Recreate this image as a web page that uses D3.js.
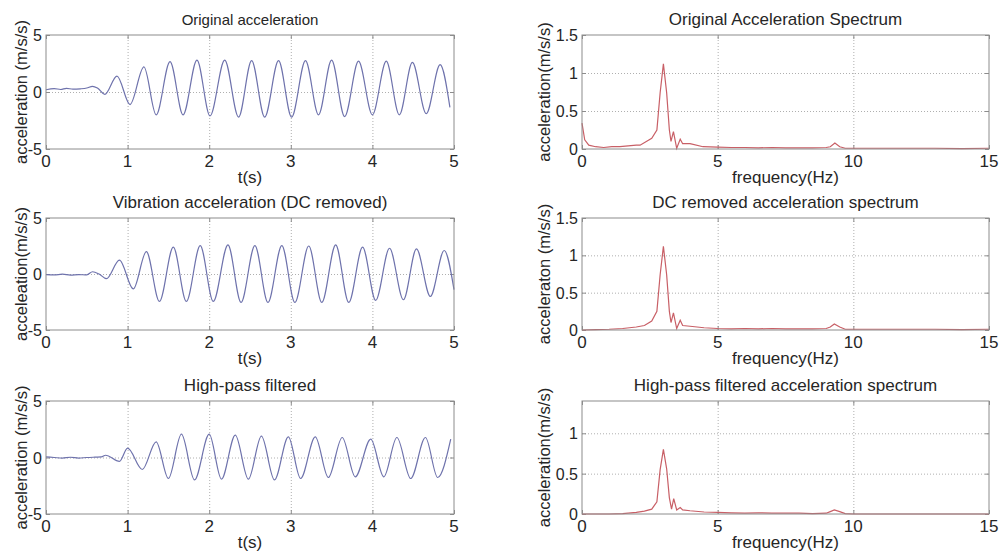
<!DOCTYPE html>
<html>
<head>
<meta charset="utf-8">
<script src="https://cdn.jsdelivr.net/npm/d3@7"></script>
<style>
  body { margin: 0; background: #fff; }
  text { font-family: "Liberation Sans", Arial, Helvetica, sans-serif; fill: #262626; }
</style>
</head>
<body>
<svg id="fig" width="1001" height="557"></svg>
<script>
// ---- time signals (peaks / troughs) ----
var origT = [0, 0.1, 0.18, 0.25, 0.33, 0.42, 0.5, 0.57, 0.63, 0.72, 0.87, 1.03, 1.2, 1.35, 1.52, 1.68, 1.85, 2.01, 2.19, 2.36, 2.52, 2.68, 2.85, 3.01, 3.18, 3.34, 3.5, 3.66, 3.83, 4.0, 4.17, 4.33, 4.49, 4.66, 4.83, 4.95];
var origA = [0.2, 0.3, 0.22, 0.32, 0.25, 0.28, 0.35, 0.5, 0.35, -0.2, 1.4, -1.1, 2.2, -2.0, 2.66, -2.0, 2.8, -2.1, 2.8, -2.2, 2.75, -2.2, 2.75, -2.2, 2.75, -2.0, 2.8, -2.16, 2.7, -2.0, 2.7, -2.0, 2.6, -1.9, 2.4, -1.35];

var dcT = [0, 0.1, 0.2, 0.3, 0.4, 0.5, 0.57, 0.65, 0.74, 0.9, 1.07, 1.23, 1.39, 1.56, 1.72, 1.89, 2.05, 2.23, 2.39, 2.56, 2.72, 2.89, 3.05, 3.22, 3.38, 3.55, 3.71, 3.88, 4.04, 4.21, 4.38, 4.54, 4.71, 4.88, 5.0];
var dcA = [-0.05, -0.08, -0.02, -0.1, -0.05, -0.08, 0.2, 0.0, -0.42, 1.24, -1.33, 2.0, -2.45, 2.4, -2.45, 2.54, -2.45, 2.6, -2.54, 2.54, -2.54, 2.54, -2.54, 2.5, -2.54, 2.6, -2.54, 2.4, -2.35, 2.3, -2.3, 2.24, -2.0, 2.1, -1.4];

var hpT = [0, 0.1, 0.2, 0.3, 0.4, 0.5, 0.6, 0.68, 0.73, 0.9, 1.0, 1.18, 1.35, 1.5, 1.66, 1.82, 2.0, 2.15, 2.32, 2.48, 2.64, 2.8, 2.97, 3.12, 3.3, 3.46, 3.63, 3.79, 3.98, 4.14, 4.3, 4.47, 4.65, 4.8, 4.96];
var hpA = [0.05, 0.0, -0.05, 0.02, -0.05, 0.0, 0.03, 0.05, 0.2, -0.35, 0.83, -1.06, 1.39, -1.86, 2.06, -1.98, 2.06, -1.92, 1.98, -1.92, 1.89, -1.98, 1.83, -1.86, 1.83, -1.77, 1.77, -1.71, 1.62, -1.71, 1.77, -1.86, 1.77, -1.77, 1.62];

// ---- spectra ----
var origF = [0, 0.1, 0.25, 0.5, 0.8, 1.1, 1.4, 1.7, 2.0, 2.14, 2.57, 2.76, 2.88, 3.0, 3.12, 3.22, 3.28, 3.37, 3.49, 3.62, 3.71, 3.98, 4.46, 5, 5.5, 6, 6.5, 7, 7.5, 8, 8.5, 9.0, 9.15, 9.32, 9.5, 9.7, 10, 11, 12, 13, 14, 15];
var origS = [0.34, 0.12, 0.05, 0.03, 0.02, 0.03, 0.03, 0.04, 0.05, 0.05, 0.14, 0.25, 0.74, 1.12, 0.74, 0.25, 0.1, 0.23, 0.01, 0.13, 0.07, 0.07, 0.03, 0.025, 0.02, 0.02, 0.015, 0.02, 0.015, 0.015, 0.015, 0.02, 0.03, 0.08, 0.03, 0.01, 0.01, 0.01, 0.01, 0.01, 0.005, 0.01];

var dcF = [0, 0.5, 1.0, 1.5, 2.0, 2.3, 2.57, 2.76, 2.88, 3.0, 3.12, 3.22, 3.28, 3.37, 3.49, 3.62, 3.71, 3.98, 4.5, 5, 5.5, 6, 6.5, 7, 7.5, 8, 8.5, 9, 9.15, 9.3, 9.5, 9.7, 10, 11, 12, 13, 14, 15];
var dcS = [0, 0.005, 0.01, 0.02, 0.04, 0.06, 0.12, 0.25, 0.74, 1.12, 0.74, 0.25, 0.1, 0.23, 0.02, 0.13, 0.06, 0.05, 0.03, 0.02, 0.015, 0.02, 0.015, 0.02, 0.015, 0.015, 0.015, 0.02, 0.04, 0.08, 0.04, 0.01, 0.01, 0.01, 0.01, 0.01, 0.005, 0.01];

var hpF = [0, 0.5, 1.0, 1.5, 1.8, 2.0, 2.3, 2.57, 2.76, 2.88, 3.0, 3.12, 3.22, 3.3, 3.38, 3.49, 3.62, 3.71, 3.98, 4.5, 5, 5.5, 6, 6.5, 7, 7.5, 8, 8.5, 9, 9.15, 9.3, 9.5, 9.7, 10, 11, 12, 13, 14, 15];
var hpS = [0, 0, 0, 0.005, 0.015, 0.02, 0.035, 0.06, 0.15, 0.55, 0.8, 0.56, 0.2, 0.06, 0.19, 0.05, 0.08, 0.05, 0.04, 0.025, 0.02, 0.015, 0.01, 0.015, 0.01, 0.01, 0.01, 0.005, 0.01, 0.03, 0.05, 0.03, 0.005, 0, 0, 0, 0, 0, 0];

// ---- axis ticks / labels ----
var timeTicks = [0, 1, 2, 3, 4, 5];
var accTicks = [-5, 0, 5];
var freqTicks = [0, 5, 10, 15];
var specTicks = [0, 0.5, 1, 1.5];
var specTicksHp = [0, 0.5, 1];

var svg = d3.select('#fig');

var blue = '#6e72ac', red = '#c85f66';
var boxColor = '#8c8c8c', gridColor = '#9a9a9a';

function drawPanel(p) {
  var g = svg.append('g');
  var x = d3.scaleLinear().domain(p.xDomain).range([p.left, p.right]);
  var y = d3.scaleLinear().domain(p.yDomain).range([p.bottom, p.top]);
  var h = p.bottom - p.top, w = p.right - p.left;

  // dotted grid
  g.append('g')
      .attr('transform', 'translate(0,' + p.bottom + ')')
      .call(d3.axisBottom(x).tickValues(p.xTicks.slice(1, -1)).tickSize(-h).tickFormat(''))
      .call(function(a){ a.select('.domain').remove(); });
  g.append('g')
      .attr('transform', 'translate(' + p.left + ',0)')
      .call(d3.axisLeft(y).tickValues(p.yGrid).tickSize(-w).tickFormat(''))
      .call(function(a){ a.select('.domain').remove(); });
  g.selectAll('.tick line')
      .attr('stroke', gridColor)
      .attr('stroke-width', 0.8)
      .attr('stroke-dasharray', '1,2');

  // inward ticks on all four sides
  var tk = svg.append('g');
  tk.append('g').attr('transform', 'translate(0,' + p.bottom + ')')
      .call(d3.axisBottom(x).tickValues(p.xTicks).tickSize(-4).tickFormat(''));
  tk.append('g').attr('transform', 'translate(0,' + p.top + ')')
      .call(d3.axisTop(x).tickValues(p.xTicks).tickSize(-4).tickFormat(''));
  tk.append('g').attr('transform', 'translate(' + p.left + ',0)')
      .call(d3.axisLeft(y).tickValues(p.yTicks).tickSize(-4).tickFormat(''));
  tk.append('g').attr('transform', 'translate(' + p.right + ',0)')
      .call(d3.axisRight(y).tickValues(p.yTicks).tickSize(-4).tickFormat(''));
  tk.selectAll('.domain').remove();
  tk.selectAll('line').attr('stroke', boxColor);

  // the curve
  var line = d3.line()
      .x(function(d){ return x(d[0]); })
      .y(function(d){ return y(d[1]); })
      .curve(p.curve);
  svg.append('path')
      .datum(d3.zip(p.xs, p.ys))
      .attr('d', line)
      .attr('fill', 'none')
      .attr('stroke', p.color)
      .attr('stroke-width', 1.2);

  // box
  svg.append('rect')
      .attr('x', p.left).attr('y', p.top)
      .attr('width', w).attr('height', h)
      .attr('fill', 'none')
      .attr('stroke', boxColor)
      .attr('stroke-width', 1);

  // tick labels
  svg.append('g').selectAll('text')
      .data(p.xTicks).enter().append('text')
      .attr('x', function(d){ return x(d); })
      .attr('y', p.bottom + 18)
      .attr('text-anchor', 'middle')
      .attr('font-size', '17px')
      .text(function(d){ return String(d); });
  svg.append('g').selectAll('text')
      .data(p.yTicks).enter().append('text')
      .attr('x', p.left - 4)
      .attr('y', function(d){ return y(d) + 6; })
      .attr('text-anchor', 'end')
      .attr('font-size', '16px')
      .text(function(d){ return String(d); });

  // title, axis labels
  svg.append('text')
      .attr('x', (p.left + p.right) / 2)
      .attr('y', p.top - 10)
      .attr('text-anchor', 'middle')
      .attr('font-size', p.titleSize)
      .text(p.title);
  svg.append('text')
      .attr('x', (p.left + p.right) / 2)
      .attr('y', p.bottom + 34)
      .attr('text-anchor', 'middle')
      .attr('font-size', '17px')
      .text(p.xLabel);
  svg.append('text')
      .attr('transform', 'translate(' + p.yLabelX + ',' + ((p.top + p.bottom) / 2) + ') rotate(-90)')
      .attr('text-anchor', 'middle')
      .attr('font-size', '16.5px')
      .text(p.yLabel);
}

var L = {left: 46, right: 454, yLabelX: 27};
var R = {left: 582, right: 989, yLabelX: 550};
var rows = [[35, 149], [218, 330], [401, 514]];

var panels = [
  {col: L, row: 0, xs: origT, ys: origA, title: 'Original acceleration', titleSize: '15px', yLabel: 'acceleration (m/s/s)'},
  {col: L, row: 1, xs: dcT, ys: dcA, title: 'Vibration acceleration (DC removed)', titleSize: '17px', yLabel: 'acceleation(m/s/s)'},
  {col: L, row: 2, xs: hpT, ys: hpA, title: 'High-pass filtered', titleSize: '17px', yLabel: 'acceleration (m/s/s)'},
  {col: R, row: 0, xs: origF, ys: origS, title: 'Original Acceleration Spectrum', titleSize: '17px', yLabel: 'acceleration(m/s/s)'},
  {col: R, row: 1, xs: dcF, ys: dcS, title: 'DC removed acceleration spectrum', titleSize: '17px', yLabel: 'acceleraton (m/s/s)'},
  {col: R, row: 2, xs: hpF, ys: hpS, title: 'High-pass filtered acceleration spectrum', titleSize: '17px', yLabel: 'acceleration(m/s/s)'}
];

panels.forEach(function(d) {
  var isTime = d.col === L;
  drawPanel({
    left: d.col.left, right: d.col.right, yLabelX: d.col.yLabelX,
    top: rows[d.row][0], bottom: rows[d.row][1],
    xs: d.xs, ys: d.ys,
    xDomain: isTime ? [0, 5] : [0, 15],
    yDomain: isTime ? [-5, 5] : (d.row === 2 ? [0, 1.4] : [0, 1.5]),
    xTicks: isTime ? timeTicks : freqTicks,
    yTicks: isTime ? accTicks : (d.row === 2 ? specTicksHp : specTicks),
    yGrid: isTime ? [0] : [0.5, 1],
    curve: isTime ? d3.curveMonotoneX : d3.curveLinear,
    color: isTime ? blue : red,
    title: d.title, titleSize: d.titleSize,
    xLabel: isTime ? 't(s)' : 'frequency(Hz)',
    yLabel: d.yLabel
  });
});
</script>
</body>
</html>
